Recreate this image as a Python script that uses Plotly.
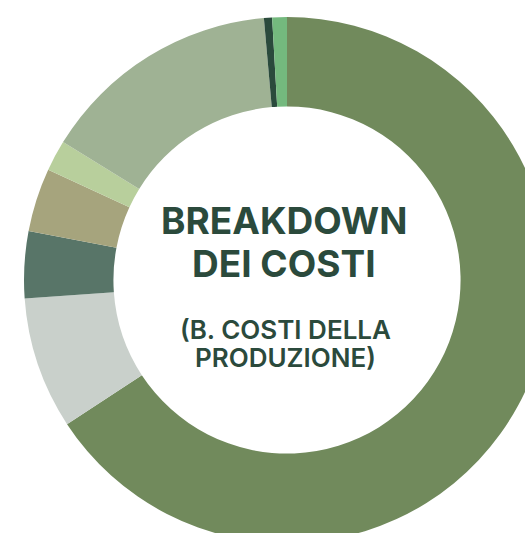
import plotly.graph_objects as go

labels = ["Voce 1", "Voce 2", "Voce 3", "Voce 4", "Voce 5", "Voce 6", "Voce 7", "Voce 8"]
values = [65.7, 8.1, 4.1, 3.9, 1.9, 14.8, 0.5, 0.9]
colors = ["#718a5c", "#c9d0cb", "#587568", "#a6a47d", "#b8cf9c", "#9fb294", "#2a4a3c", "#74b97e"]

title_lines = ["BREAKDOWN", "DEI COSTI"]
subtitle_lines = ["(B. COSTI DELLA", "PRODUZIONE)"]

W, H = 574, 560
cx, cy, r = 287, 280, 263

fig = go.Figure(go.Pie(
    labels=labels,
    values=values,
    marker=dict(colors=colors, line=dict(width=0)),
    hole=0.66,
    sort=False,
    direction="clockwise",
    rotation=0,
    textinfo="none",
    hoverinfo="label+percent",
    domain=dict(x=[(cx - r) / W, (cx + r) / W], y=[(H - cy - r) / H, (H - cy + r) / H]),
    showlegend=False,
))

ann = []
for txt, ypx in zip(title_lines, [221, 263.5]):
    ann.append(dict(text="<b>" + txt + "</b>", x=284 / W, y=1 - ypx / H, xref="paper", yref="paper",
                    showarrow=False, xanchor="center", yanchor="middle",
                    font=dict(family="Inter", size=37, color="#2b4a3c", weight=800)))
for txt, ypx in zip(subtitle_lines, [329, 357]):
    ann.append(dict(text=txt, x=285 / W, y=1 - ypx / H, xref="paper", yref="paper",
                    showarrow=False, xanchor="center", yanchor="middle",
                    font=dict(family="Inter", size=26, color="#2b4a3c", weight=600)))

fig.update_layout(width=W, height=H, margin=dict(l=0, r=0, t=0, b=0),
                  paper_bgcolor="white", plot_bgcolor="white", annotations=ann)

fig.write_html("out.html", post_script="document.body.style.margin='0';document.body.style.overflow='hidden';document.documentElement.style.overflow='hidden';")
